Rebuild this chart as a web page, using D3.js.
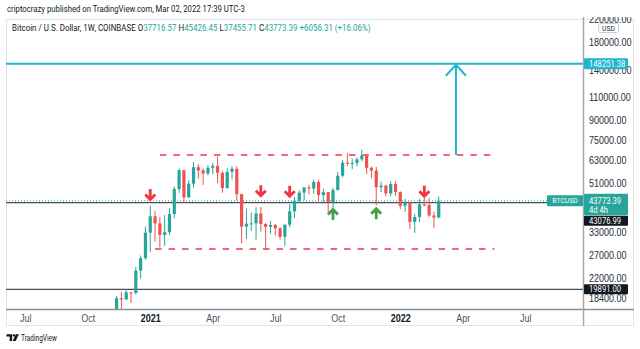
<!DOCTYPE html>
<html>
<head>
<meta charset="utf-8">
<script src="https://cdn.jsdelivr.net/npm/d3@7"></script>
<style>
  html, body { margin: 0; padding: 0; background: #ffffff; }
  svg { display: block; font-family: Roboto, "Open Sans", "DejaVu Sans", sans-serif; }
</style>
</head>
<body>
<svg id="chart" width="640" height="349"></svg>
<script>
// ---- BTC/USD weekly candles (Coinbase) ----
const weekStarts = [
  "2020-11-16","2020-11-23","2020-11-30","2020-12-07","2020-12-14","2020-12-21","2020-12-28",
  "2021-01-04","2021-01-11","2021-01-18","2021-01-25","2021-02-01","2021-02-08","2021-02-15","2021-02-22",
  "2021-03-01","2021-03-08","2021-03-15","2021-03-22","2021-03-29","2021-04-05","2021-04-12","2021-04-19",
  "2021-04-26","2021-05-03","2021-05-10","2021-05-17","2021-05-24","2021-05-31","2021-06-07","2021-06-14",
  "2021-06-21","2021-06-28","2021-07-05","2021-07-12","2021-07-19","2021-07-26","2021-08-02","2021-08-09",
  "2021-08-16","2021-08-23","2021-08-30","2021-09-06","2021-09-13","2021-09-20","2021-09-27","2021-10-04",
  "2021-10-11","2021-10-18","2021-10-25","2021-11-01","2021-11-08","2021-11-15","2021-11-22","2021-11-29",
  "2021-12-06","2021-12-13","2021-12-20","2021-12-27","2022-01-03","2022-01-10","2022-01-17","2022-01-24",
  "2022-01-31","2022-02-07","2022-02-14","2022-02-21","2022-02-28"
];
const opens = [
  15960,18370,18180,19370,19270,23480,26270,
  32960,38150,35800,32280,33100,38900,48600,57490,
  45140,50970,59020,57350,55800,58730,59770,56150,
  49000,56620,58250,46430,34770,35680,35800,39100,
  35600,34700,35290,34250,31780,35400,39850,43800,
  47050,49300,48800,51750,46060,47250,43200,48200,
  54700,61500,60900,61300,63300,65500,58700,57300,
  49400,50100,46700,50800,47300,41850,43080,36270,
  37900,42400,42200,38400,37716.57
];
const highs = [
  18800,19490,19920,19420,24300,26880,34800,
  41950,40100,37860,38530,40950,49700,58350,57530,
  52650,61790,60600,58430,60200,61300,64900,57200,
  58500,59600,59600,46600,40900,39480,41300,41400,
  36000,36600,35600,34600,35400,42600,45300,48100,
  49400,50500,52900,52800,48800,47350,49200,56600,
  62900,67000,63700,64300,69000,66300,59400,59200,
  51900,50600,52100,52100,47600,44450,43500,38900,
  44500,45800,44800,39800,45426.45
];
const lows = [
  15780,16200,18110,17600,19000,21900,25900,
  27730,30420,28850,29260,32300,37400,47000,43000,
  44950,49300,53300,50430,54900,55500,51300,47000,
  48800,53000,43800,30000,31200,33500,31000,33300,
  28800,32700,32100,31000,29300,34600,37500,42800,
  43900,46400,46500,42900,43400,39600,40800,47900,
  53900,59700,58000,59500,62300,55600,53500,42000,
  47200,45600,45500,45700,40600,39650,34000,32900,
  36250,41700,38000,34300,37455.71
];
const closes = [
  18370,18180,19370,19270,23480,26270,32960,
  38150,35800,32280,33100,38900,48600,57490,45140,
  50970,59020,57350,55800,58730,59770,56150,49000,
  56620,58250,46430,34770,35680,35800,39100,35600,
  34700,35290,34250,31780,35400,39850,43800,47050,
  49300,48800,51750,46060,47250,43200,48200,54700,
  61500,60900,61300,63300,65500,58700,57300,49400,
  50100,46700,50800,47300,41850,43080,36270,37900,
  42400,42200,38400,37717.08,43773.39
];

// ---- axes ----
const priceTicks = [220000,180000,140000,110000,90000,75000,63000,51000,33000,27000,22000,18400];
const timeTickDates = ["2020-07-06","2020-10-05","2021-01-04","2021-04-05","2021-07-05","2021-10-04","2022-01-03","2022-04-04","2022-07-04"];
const timeTickLabels = ["Jul","Oct","2021","Apr","Jul","Oct","2022","Apr","Jul"];
const yearLabels = ["2021","2022"];

// ---- drawings ----
const horizontalLevels = [43076.99, 19891.00];
const targetLevel = 148251.38;
const rangeLines = [
  { start: "2021-01-18", end: "2022-05-24", price: 65800 },
  { start: "2021-01-11", end: "2022-05-20", price: 28500 }
];
const downArrowDates  = ["2021-01-04","2021-06-14","2021-07-26","2022-02-07"];
const downArrowPrices = [43500, 45000, 44800, 44800];
const upArrowDates    = ["2021-09-27","2021-11-29"];
const upArrowPrices   = [41200, 41500];
const targetArrow = { date: "2022-03-25", from: 65800, to: 148251.38 };

const headerText = "criptocrazy published on TradingView.com, Mar 02, 2022 17:39 UTC-3";
const symbolText = "Bitcoin / U.S. Dollar, 1W, COINBASE";
const tickerText = "BTCUSD";
const countdownText = "4d 4h";

// ---- layout ----
const pane = { left: 6, right: 583, top: 19, bottom: 309 };
const frame = { right: 634, bottom: 326 };
const UP = "#26a69a", DOWN = "#ef5350", CYAN = "#1fb6d0", RED = "#f23645", GREEN = "#43a047";
const TEXT = "#2a2e39";
const FONT = "Roboto, 'Open Sans', sans-serif";

const svg = d3.select("#chart");
const parse = d3.utcParse("%Y-%m-%d");

const x = d3.scaleUtc()
  .domain([parse("2020-06-08"), parse("2022-09-26")])
  .range([pane.left, pane.right]);
const y = d3.scaleLog()
  .domain([16700, 220900])
  .range([pane.bottom, pane.top]);

const bars = weekStarts.map((d, i) => ({
  date: parse(d), o: opens[i], h: highs[i], l: lows[i], c: closes[i]
}));
const last = bars[bars.length - 1];
const prevClose = bars[bars.length - 2].c;

const defs = svg.append("defs");
defs.append("clipPath").attr("id", "paneClip").append("rect")
  .attr("x", pane.left).attr("y", pane.top)
  .attr("width", pane.right - pane.left).attr("height", pane.bottom - pane.top);
defs.append("clipPath").attr("id", "scaleClip").append("rect")
  .attr("x", pane.right).attr("y", pane.top - 2)
  .attr("width", frame.right - pane.right).attr("height", frame.bottom - pane.top);

function squeeze(sel, f) {
  sel.each(function () {
    const w = this.getComputedTextLength();
    if (w > 0) {
      this.setAttribute("textLength", (w * f).toFixed(2));
      this.setAttribute("lengthAdjust", "spacingAndGlyphs");
    }
  });
}

// frame
svg.append("rect")
  .attr("x", pane.left + 0.5).attr("y", pane.top + 0.5)
  .attr("width", frame.right - pane.left - 1).attr("height", frame.bottom - pane.top - 1)
  .attr("fill", "none").attr("stroke", "#e0e3eb");

const plot = svg.append("g").attr("clip-path", "url(#paneClip)");

// horizontal levels
plot.selectAll("line.level").data(horizontalLevels).join("line")
  .attr("class", "level")
  .attr("x1", pane.left).attr("x2", pane.right)
  .attr("y1", d => y(d)).attr("y2", d => y(d))
  .attr("stroke", "#4a4d57").attr("stroke-width", 1.4);

// last price dotted line
plot.append("line")
  .attr("x1", pane.left).attr("x2", pane.right)
  .attr("y1", y(last.c)).attr("y2", y(last.c))
  .attr("stroke", UP).attr("stroke-width", 1).attr("stroke-dasharray", "1 2");

// target level
plot.append("line")
  .attr("x1", pane.left).attr("x2", pane.right)
  .attr("y1", y(targetLevel)).attr("y2", y(targetLevel))
  .attr("stroke", CYAN).attr("stroke-width", 2);

// range lines
plot.selectAll("line.range").data(rangeLines).join("line")
  .attr("class", "range")
  .attr("x1", d => x(parse(d.start))).attr("x2", d => x(parse(d.end)))
  .attr("y1", d => y(d.price)).attr("y2", d => y(d.price))
  .attr("stroke", RED).attr("stroke-width", 1.5).attr("stroke-dasharray", "6.5 7");

// target arrow
{
  const ax = x(parse(targetArrow.date));
  const yTip = y(targetArrow.to) + 1;
  plot.append("line")
    .attr("x1", ax).attr("x2", ax)
    .attr("y1", y(targetArrow.from)).attr("y2", yTip)
    .attr("stroke", CYAN).attr("stroke-width", 2);
  plot.append("path")
    .attr("d", `M${ax - 10},${yTip + 11}L${ax},${yTip}L${ax + 10},${yTip + 11}`)
    .attr("fill", "none").attr("stroke", CYAN).attr("stroke-width", 2)
    .attr("stroke-linejoin", "miter");
}

// candles
const candle = plot.selectAll("g.candle").data(bars).join("g").attr("class", "candle");
candle.append("line")
  .attr("x1", d => x(d.date)).attr("x2", d => x(d.date))
  .attr("y1", d => y(d.h)).attr("y2", d => y(d.l))
  .attr("stroke", d => d.c >= d.o ? UP : DOWN).attr("stroke-width", 1);
candle.append("rect")
  .attr("x", d => x(d.date) - 1.6).attr("width", 3.2)
  .attr("y", d => y(Math.max(d.o, d.c)))
  .attr("height", d => Math.max(1, Math.abs(y(d.o) - y(d.c))))
  .attr("fill", d => d.c >= d.o ? UP : DOWN);

// arrow marks (tip at origin, pointing down)
const arrowPath = "M0,0L-6,-6L-4,-8L-1.4,-5.4L-1.4,-12.5L1.4,-12.5L1.4,-5.4L4,-8L6,-6Z";
plot.selectAll("path.down").data(downArrowDates).join("path")
  .attr("class", "down").attr("d", arrowPath).attr("fill", RED)
  .attr("transform", (d, i) => `translate(${x(parse(d))},${y(downArrowPrices[i])})`);
plot.selectAll("path.up").data(upArrowDates).join("path")
  .attr("class", "up").attr("d", arrowPath).attr("fill", GREEN)
  .attr("transform", (d, i) => `translate(${x(parse(d))},${y(upArrowPrices[i])}) scale(1,-1)`);

// price scale (clip on an untransformed wrapper)
const yAxis = d3.axisRight(y).tickValues(priceTicks).tickFormat(d3.format(".2f")).tickSize(0).tickPadding(6);
const gy = svg.append("g").attr("clip-path", "url(#scaleClip)")
  .append("g")
  .attr("transform", `translate(${pane.right},0)`)
  .attr("font-size", 8.5).attr("font-family", FONT)
  .call(yAxis);
gy.select(".domain").remove();
gy.selectAll("text").attr("fill", TEXT);
squeeze(gy.selectAll("text"), 0.9);

// time scale
const xAxis = d3.axisBottom(x)
  .tickValues(timeTickDates.map(parse))
  .tickFormat((d, i) => timeTickLabels[i])
  .tickSize(0);
const gx = svg.append("g")
  .attr("transform", `translate(0,${pane.bottom})`)
  .attr("font-size", 8.5).attr("font-family", FONT)
  .call(xAxis);
gx.select(".domain").remove();
gx.selectAll("text")
  .attr("y", 9).attr("dy", "0.35em")
  .attr("fill", (d, i) => yearLabels.includes(timeTickLabels[i]) ? "#131722" : "#50535e")
  .attr("font-weight", (d, i) => yearLabels.includes(timeTickLabels[i]) ? 700 : 400);
squeeze(gx.selectAll("text"), 0.9);

// axis borders
svg.append("line")
  .attr("x1", pane.left).attr("x2", frame.right)
  .attr("y1", pane.bottom + 0.5).attr("y2", pane.bottom + 0.5)
  .attr("stroke", "#8c8f98").attr("stroke-width", 1.5);
svg.append("line")
  .attr("x1", pane.right + 0.5).attr("x2", pane.right + 0.5)
  .attr("y1", pane.top - 2).attr("y2", frame.bottom)
  .attr("stroke", "#a5a8b0").attr("stroke-width", 1.5);

// price scale labels
const labelG = svg.append("g").attr("font-family", FONT).attr("font-size", 8.5);
const boxX = pane.right + 1, boxW = 44;
function priceBox(cy, h, fill) {
  labelG.append("rect").attr("x", boxX).attr("y", cy - h / 2).attr("width", boxW).attr("height", h)
    .attr("rx", 1).attr("fill", fill);
}
function priceText(cy, txt) {
  return labelG.append("text").attr("x", pane.right + 6).attr("y", cy).attr("dy", "0.35em")
    .attr("fill", "#ffffff").text(txt);
}
// currency badge
labelG.append("rect").attr("x", 598.5).attr("y", 23.5).attr("width", 20).attr("height", 9)
  .attr("rx", 2).attr("fill", "#ffffff").attr("stroke", "#c9ccd3");
labelG.append("text").attr("x", 608.5).attr("y", 28).attr("dy", "0.35em")
  .attr("text-anchor", "middle").attr("font-size", 7.5).attr("fill", TEXT).text("USD");

// target
priceBox(y(targetLevel), 11, CYAN);
priceText(y(targetLevel), d3.format(".2f")(targetLevel));

// last price with countdown
const lastY = y(last.c);
const lastTop = lastY - 7;
const lastH = 21.5;
labelG.append("rect").attr("x", boxX).attr("y", lastTop).attr("width", boxW).attr("height", lastH)
  .attr("rx", 1).attr("fill", UP);
priceText(lastY, d3.format(".2f")(last.c));
priceText(lastY + 9, countdownText);

// ticker tag
labelG.append("rect").attr("x", pane.right - 36).attr("y", lastY - 5.5).attr("width", 36).attr("height", 11)
  .attr("rx", 1).attr("fill", UP);
labelG.append("text").attr("x", pane.right - 18).attr("y", lastY).attr("dy", "0.35em")
  .attr("text-anchor", "middle").attr("font-size", 7.5).attr("fill", "#ffffff").text(tickerText);

// horizontal level labels, pushed below the last price label when they collide
let occupiedBottom = lastTop + lastH;
horizontalLevels.forEach(v => {
  let cy = y(v);
  if (cy - 5 < occupiedBottom && cy + 5 > lastTop) cy = occupiedBottom + 5.5;
  priceBox(cy, 10, "#131722");
  priceText(cy, d3.format(".2f")(v));
});
squeeze(labelG.selectAll("text"), 0.9);

// header
const header = svg.append("text").attr("x", 0).attr("y", 0).attr("dy", "0.35em")
  .attr("font-size", 8.5).attr("fill", "#131722").text(headerText);
header.attr("transform", `translate(7,9) scale(${238 / header.node().getComputedTextLength()},1)`);

// legend
const fmt = d3.format(".2f");
const change = last.c - prevClose;
const legend = svg.append("text").attr("x", 0).attr("y", 0).attr("dy", "0.35em")
  .attr("font-size", 8.5).attr("fill", "#131722");
legend.append("tspan").text(symbolText + "  ");
[["O", last.o], ["H", last.h], ["L", last.l], ["C", last.c]].forEach(([k, v], i) => {
  legend.append("tspan").text((i ? " " : "") + k);
  legend.append("tspan").attr("fill", UP).text(fmt(v));
});
legend.append("tspan").attr("fill", UP)
  .text(` ${change >= 0 ? "+" : ""}${fmt(change)} (${change >= 0 ? "+" : ""}${fmt(change / prevClose * 100)}%)`);
legend.attr("transform", `translate(12,28) scale(${359 / legend.node().getComputedTextLength()},1)`);

// footer logo
const logo = svg.append("g").attr("fill", "#131722");
logo.append("path").attr("d", "M6.5,334.2h5.6v6.8h-2.4v-4.5h-3.2z");
logo.append("circle").attr("cx", 13.8).attr("cy", 335.4).attr("r", 1.2);
logo.append("path").attr("d", "M15.8,334.2h3.1l-3.2,6.8h-3.1z");
const brand = svg.append("text").attr("x", 0).attr("y", 0).attr("dy", "0.35em")
  .attr("font-size", 9).attr("fill", "#131722").text("TradingView");
brand.attr("transform", `translate(21,337.8) scale(${36 / brand.node().getComputedTextLength()},1)`);
</script>
</body>
</html>
